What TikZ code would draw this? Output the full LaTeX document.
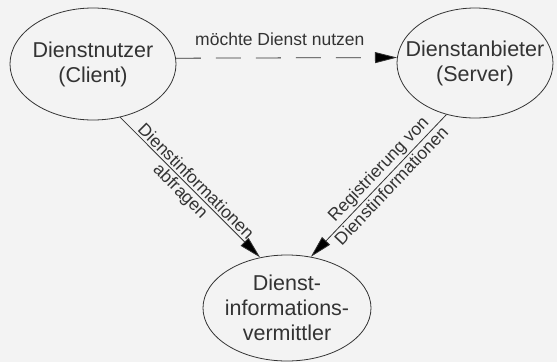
\documentclass[tikz,border=0pt]{standalone}
\usepackage{fontspec}
\setmainfont{Liberation Sans}
\usetikzlibrary{arrows.meta,shapes.geometric}
\definecolor{bg}{HTML}{F3F3F3}
\definecolor{ink}{HTML}{333333}
\begin{document}
\begin{tikzpicture}[x=1pt,y=-1pt,
  blob/.style={ellipse, draw=ink, line width=0.8pt, inner sep=0pt},
  blobtext/.style={align=center, text=ink, inner sep=0pt, font=\fontsize{21.5}{25}\selectfont},
  conn/.style={draw=ink, line width=0.8pt, -{Triangle[length=22pt,width=11pt,fill=black]}},
  lab/.style={font=\fontsize{17.5}{20}\selectfont, text=ink, inner sep=2pt}]
\fill[bg] (0,0) rectangle (557,362);
\useasboundingbox (0,0) rectangle (557,362);
\node[blob, minimum width=166pt, minimum height=112pt] (client) at (93,64) {};
\node[blobtext] (clienttxt) at (client.center) {Dienstnutzer\\(Client)};
\node[blob, minimum width=156pt, minimum height=110pt] (server) at (475,63) {};
\node[blobtext] (servertxt) at (server.center) {Dienstanbieter\\(Server)};
\node[blob, minimum width=168pt, minimum height=106pt] (verm) at (287,308) {};
\node[blobtext] (vermtxt) at (verm.center) {Dienst-\\informations-\\vermittler};
\draw[conn, dash pattern=on 25pt off 15pt] (client.4) -- (server.176)
  node[lab, pos=0.47, above=10pt] {möchte Dienst nutzen};
\draw[conn] (client.-63) -- (verm.118.7)
  node[lab, pos=0.5, sloped, above] {Dienstinformationen}
  node[lab, pos=0.48, sloped, below] {abfragen};
\draw[conn] (server.-119) -- (verm.65.6)
  node[lab, pos=0.44, sloped, above] {Registrierung von}
  node[lab, pos=0.455, sloped, below] {Dienstinformationen};
\end{tikzpicture}
\end{document}
